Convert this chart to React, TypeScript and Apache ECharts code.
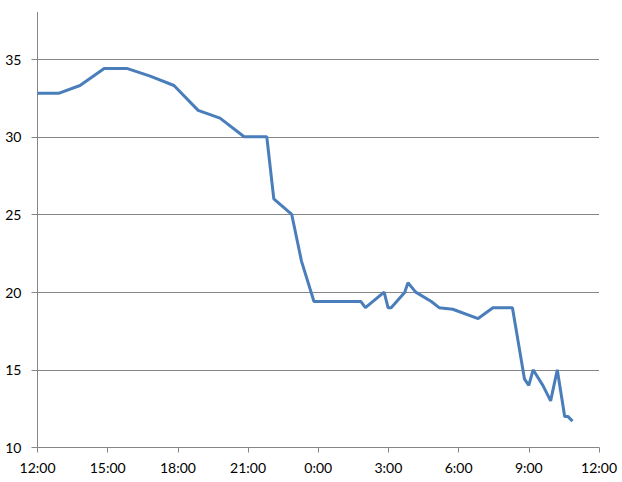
import React, { useEffect, useRef } from "react";
import * as echarts from "echarts";

const times = [
  "12:00", "12:54", "13:49", "14:51", "15:49", "16:49", "17:50", "18:52", "19:48", "20:50",
  "21:48", "22:06", "22:52", "23:17", "23:49", "0:51", "1:49", "2:01", "2:49", "2:59",
  "3:07", "3:42", "3:50", "4:10", "4:50", "5:10", "5:45", "6:50", "7:28", "7:50",
  "8:02", "8:18", "8:49", "9:00", "9:11", "9:36", "9:56", "10:13", "10:32", "10:40", "10:52",
];
const values = [
  32.8, 32.8, 33.3, 34.4, 34.4, 33.9, 33.3, 31.7, 31.2, 30.0,
  30.0, 26.0, 25.0, 22.0, 19.4, 19.4, 19.4, 19.0, 20.0, 19.0,
  19.0, 20.0, 20.6, 20.0, 19.4, 19.0, 18.9, 18.3, 19.0, 19.0,
  19.0, 19.0, 14.4, 14.0, 15.0, 14.0, 13.0, 15.0, 12.0, 12.0, 11.7,
];
const yTicks = [10, 15, 20, 25, 30, 35];

function toHours(t: string): number {
  const [h, m] = t.split(":").map(Number);
  const v = h + m / 60;
  return h < 12 ? v + 24 : v;
}

export default function App() {
  const ref = useRef<HTMLDivElement>(null);
  useEffect(() => {
    if (!ref.current) return;
    const chart = echarts.init(ref.current, null, { renderer: "svg" });
    const font = { fontFamily: "Lato", fontSize: 14, color: "#000" };
    chart.setOption({
      animation: false,
      grid: { left: 37.5, right: 23, top: 12.5, bottom: 34.5, outerBoundsMode: "none" },
      xAxis: {
        type: "value",
        min: 12,
        max: 36,
        interval: 3,
        axisLine: { show: true, lineStyle: { color: "#868686", width: 1 } },
        axisTick: { show: true, length: 5, lineStyle: { color: "#868686" } },
        axisLabel: { ...font, margin: 13, formatter: (v: number) => `${v % 24}:00` },
        splitLine: { show: false },
      },
      yAxis: {
        type: "value",
        min: 10,
        max: 38,
        interval: 5,
        axisLine: { show: true, lineStyle: { color: "#868686", width: 1 } },
        axisTick: { show: true, length: 6, customValues: yTicks, lineStyle: { color: "#868686" } },
        axisLabel: { ...font, margin: 16, customValues: yTicks },
        splitLine: {
          show: true,
          lineStyle: {
            color: ["#868686", "#868686", "#868686", "#868686", "#868686", "#868686", "rgba(0,0,0,0)"],
            width: 1,
          },
        },
      },
      series: [
        {
          type: "line",
          data: times.map((t, i) => [toHours(t), values[i]]),
          symbol: "none",
          lineStyle: { color: "#4a7ebb", width: 3 },
          itemStyle: { color: "#4a7ebb" },
        },
      ],
    });
    return () => chart.dispose();
  }, []);
  return <div ref={ref} style={{ width: 622, height: 482, position: "absolute", left: 0, top: 0 }} />;
}
